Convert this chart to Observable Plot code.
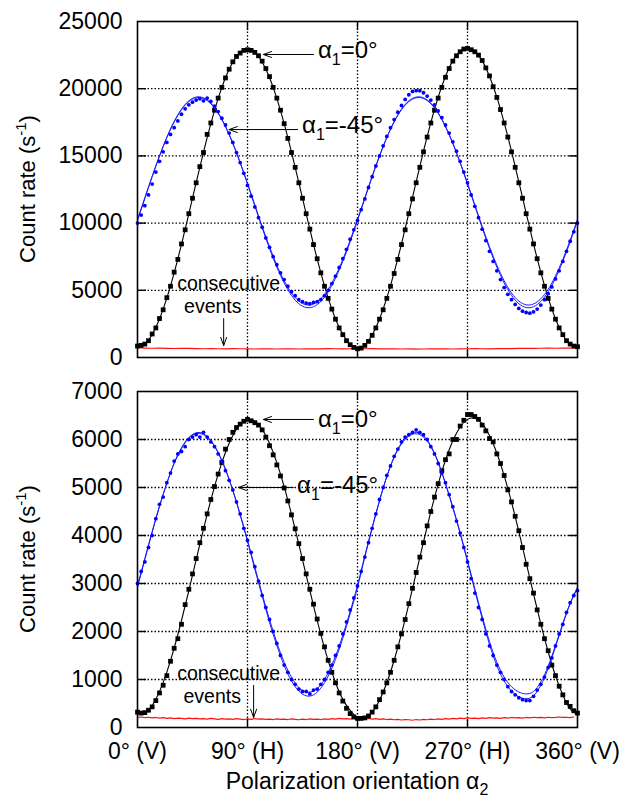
<!DOCTYPE html>
<html><head><meta charset="utf-8">
<script src="https://cdn.jsdelivr.net/npm/d3@7"></script>
<script src="https://cdn.jsdelivr.net/npm/@observablehq/plot@0.6"></script>
<style>
body{margin:0;background:#fff}
#chart{width:623px;background:#fff}
#chart svg{display:block}
</style>
</head><body><div id="chart"></div>
<script>
const FONT = "'Liberation Sans', Arial, Helvetica, sans-serif";

// polarization angle alpha2 (degrees) of the measured points (every 3°) and of the fits (every 6°)
const angles3 = d3.range(0, 361, 3);
const angles6 = d3.range(0, 361, 6);
const xTicks = [0, 90, 180, 270, 360];
const xTickLabels = ["0° (V)", "90° (H)", "180° (V)", "270° (H)", "360° (V)"];
const xGrid = [90, 180, 270];
const topYTicks = [0, 5000, 10000, 15000, 20000, 25000];
const botYTicks = [0, 1000, 2000, 3000, 4000, 5000, 6000, 7000];

// ---------- top panel ----------
const topBlack = [850,900,1000,1250,1750,2200,2900,3550,4450,5300,6350,7300,8450,9500,10700,11850,13000,14200,15250,16600,17450,18400,19300,20100,20800,21450,22000,22400,22650,22850,22900,
22850,22700,22450,22050,21500,20900,20100,19300,18400,17400,16300,15250,14150,13000,11850,10700,9550,8400,7350,6300,5300,4400,3600,2850,2200,1700,1250,950,750,650,
700,900,1200,1650,2200,2850,3550,4400,5300,6250,7300,8400,9500,10700,11800,13000,14150,15300,16400,17450,18400,19300,20100,20850,21500,22050,22450,22750,22950,23000,
22900,22750,22500,22100,21550,20950,20150,19350,18450,17450,16400,15300,14150,13000,11850,10700,9550,8450,7350,6300,5300,4400,3600,2850,2200,1700,1250,1000,850,800];
const topBlackFit = [800,990,1710,2870,4420,6300,8420,10690,13010,15280,17400,19280,20830,21990,22710,22950,
22710,21990,20830,19280,17400,15280,13010,10690,8420,6300,4420,2870,1710,990,700,
940,1680,2870,4440,6330,8460,10740,13070,15350,17480,19370,20930,22090,22800,23040,
22800,22090,20930,19370,17480,15350,13070,10740,8460,6330,4440,2870,1700,980,800];
const topBlue = [10000,10600,11300,12100,12900,13800,14600,15300,16000,16600,17100,17600,18100,18500,18800,19000,19150,19250,19100,19300,19050,18700,18300,17800,17300,16700,16000,15250,14500,13700,12800,
12000,11200,10400,9700,8900,8200,7500,6900,6300,5800,5300,4900,4600,4300,4150,4050,4000,4100,4150,4300,4600,5000,5500,6050,6700,7350,8050,8800,9500,10200,
11000,11800,12650,13450,14250,15000,15750,16450,17100,17700,18250,18750,19200,19550,19800,19850,19850,19700,19450,19150,18800,18350,17850,17300,16700,16050,15350,14600,13800,13000,
12100,11250,10400,9550,8700,7900,7150,6450,5800,5200,4700,4300,3950,3650,3450,3350,3300,3400,3600,3900,4300,4750,5250,5850,6450,7150,7900,8650,9350,10000];
const topBlueFitA = [10190,11820,13450,14990,16380,17560,18480,19100,19380,19320,18930,18210,17200,15940,14490,12910,11280,9650,8110,6720,5540,4620,4000,3720,3780,4170,4890,5900,7160,8610,10190,
11820,13450,14990,16380,17560,18480,19100,19380,19320,18930,18210,17200,15940,14490,12910,11280,9650,8110,6720,5540,4620,4000,3720,3780,4170,4890,5900,7160,8610,10190];
const topBlueFitB = [10280,11890,13490,15000,16370,17530,18440,19040,19320,19270,18880,18170,17170,15940,14510,12960,11350,9750,8240,6870,5710,4800,4200,3920,3980,4370,5070,6070,7300,8730,10280,
11890,13490,15000,16370,17530,18440,19040,19320,19270,18880,18170,17170,15940,14510,12960,11350,9750,8240,6870,5710,4800,4200,3920,3980,4370,5070,6070,7300,8730,10280];
const topRed = [720,700,690,700,680,670,690,680,660,650,660,650,640,660,650,640,630,650,640,630,650,640,630,640,650,640,660,650,640,650,660,
650,660,640,650,640,630,640,620,630,640,650,640,630,640,650,660,650,640,660,670,660,680,690,680,690,700,690,710,700,720];

// ---------- bottom panel ----------
const botBlack = [320,300,310,360,430,560,720,880,1080,1380,1650,1850,2150,2560,2880,3200,3520,3850,4150,4450,4750,5020,5280,5520,5800,6000,6150,6250,6320,6380,6420,
6390,6350,6300,6200,6050,5870,5680,5470,5240,4990,4720,4430,4140,3830,3520,3200,2880,2570,2260,1960,1680,1400,1150,930,720,550,400,290,220,190,
190,200,240,320,430,580,740,930,1150,1400,1680,1950,2250,2580,2900,3230,3550,3850,4200,4500,4800,5080,5350,5580,5700,6000,6000,6280,6400,6520,
6520,6480,6420,6300,6180,6020,5950,5700,5500,5250,4950,4700,4400,4100,3750,3400,3100,2800,2450,2150,1850,1600,1300,1080,860,680,520,440,350,300];
const botBlackFit = [290,290,455,747,1153,1653,2229,2853,3497,4133,4736,5277,5733,6084,6315,6416,6382,6215,5922,5517,5017,4441,3818,3173,2537,1934,1393,937,586,355,210,
210,321,566,931,1401,1955,2569,3216,3868,4496,5072,5573,5975,6261,6419,6442,6329,6084,5719,5249,4695,4081,3434,2783,2154,1578,1077,675,389,260];
const botBlue = [3000,3250,3450,3750,4000,4350,4650,4800,5100,5300,5550,5700,5750,5850,6000,6050,6100,6050,6150,6050,5950,5850,5700,5550,5350,5150,4950,4700,4450,4150,3900,
3650,3350,3050,2750,2500,2250,2000,1750,1500,1300,1150,1000,900,800,750,750,700,780,800,900,1000,1150,1300,1500,1700,1950,2200,2450,2700,2950,
3250,3550,3850,4150,4450,4750,5000,5250,5450,5650,5800,5950,6050,6100,6150,6200,6150,6100,6000,5850,5700,5500,5300,5100,4850,4600,4300,4050,3750,3450,
3100,2800,2500,2250,1950,1700,1500,1300,1150,1000,850,750,680,620,580,560,560,650,780,900,1050,1250,1450,1700,1950,2150,2400,2600,2750,2850];
const botBlueFitA = [2920,3500,4070,4610,5090,5510,5830,6040,6140,6120,5980,5730,5380,4940,4430,3880,3300,2740,2190,1710,1290,970,760,660,680,820,1070,1420,1860,2370,2920,
3550,4150,4720,5230,5640,5930,6100,6150,6080,5870,5530,5080,4580,4040,3450,2850,2270,1730,1290,970,760,640,600,660,880,1230,1680,2150,2580,2900];
const botBlueFitB = [2960,3520,4080,4610,5090,5500,5810,6030,6120,6100,5970,5720,5370,4940,4440,3900,3340,2780,2250,1770,1360,1050,830,740,760,890,1140,1490,1920,2420,2960,
3580,4170,4730,5230,5630,5910,6070,6120,6050,5850,5520,5080,4590,4060,3480,2890,2320,1790,1360,1050,850,740,700,750,950,1280,1710,2170,2590,2920];
const botRed = [210,220,205,215,200,210,195,205,190,200,185,195,190,180,195,185,190,180,185,175,190,180,170,185,175,180,170,185,175,165,180,
170,185,175,180,170,175,165,180,170,175,165,180,170,160,175,165,180,170,175,165,180,170,185,175,190,180,185,175,190,
185,195,180,190,175,185,170,180,165,175,160,170,155,165,160,150,165,155,170,160,175,165,180,170,185,175,190,180,195,185,
200,190,195,185,200,190,205,195,200,190,205,195,210,200,205,195,210,200,215,205,210,200,215,205,210,220,210,215,205,220];

// ---------- annotations (data coordinates) ----------
const topArrows = [
  {x1: 144, y1: 22545, x2: 103, y2: 22545},
  {x1: 131, y1: 16960, x2: 75, y2: 16960},
  {x1: 70.5, y1: 2900, x2: 70.5, y2: 890}
];
const botArrows = [
  {x1: 144, y1: 6417, x2: 103, y2: 6417},
  {x1: 127.5, y1: 5000, x2: 82.5, y2: 5000},
  {x1: 95, y1: 875, x2: 95, y2: 210}
];
const topAlphaLabels = [
  {x: 148, y: 22250, rest: "=0°"},
  {x: 135, y: 16660, rest: "=-45°"}
];
const botAlphaLabels = [
  {x: 148, y: 6256, rest: "=0°"},
  {x: 131, y: 4875, rest: "=-45°"}
];
const topNotes = [
  {x: 75, y: 4985, text: "consecutive"},
  {x: 62, y: 3274, text: "events"}
];
const botNotes = [
  {x: 75, y: 980, text: "consecutive"},
  {x: 61.5, y: 500, text: "events"}
];

const zip = (xs, ys) => xs.map((a, i) => ({a, v: ys[i]}));
const gridStyle = {stroke: "#000", strokeOpacity: 1, strokeWidth: 1.3, strokeDasharray: "1.5,2"};

function makePanel(cfg) {
  const yInner = cfg.yTicks.slice(1, -1);
  const marks = [
    // dotted grid
    Plot.ruleY(yInner, {y: (d) => d, ...gridStyle}),
    Plot.ruleX(xGrid, {x: (d) => d, ...gridStyle}),
    Plot.line(zip(cfg.redAngles, cfg.red), {x: "a", y: "v", stroke: "#ff1010", strokeWidth: 1.1}),
    Plot.line(zip(angles6, cfg.blackFit), {x: "a", y: "v", stroke: "#000", strokeWidth: 1.1, curve: "natural"}),
    Plot.dot(zip(angles3, cfg.black), {x: "a", y: "v", symbol: "square", r: 2.7, fill: "#000"}),
    Plot.line(zip(angles6, cfg.blueFitA), {x: "a", y: "v", stroke: "#1a1aff", strokeWidth: 1, curve: "natural"}),
    Plot.line(zip(angles6, cfg.blueFitB), {x: "a", y: "v", stroke: "#1a1aff", strokeWidth: 1, curve: "natural"}),
    Plot.dot(zip(angles3, cfg.blue), {x: "a", y: "v", r: 1.9, fill: "#0000ff"}),
    Plot.arrow(cfg.arrows, {x1: "x1", y1: "y1", x2: "x2", y2: "y2", stroke: "#000", strokeWidth: 1, headLength: 13, headAngle: 40}),
    Plot.axisY(cfg.yTicks, {tickSize: 0, tickPadding: 15, label: null, fontSize: 23, tickFormat: (d) => String(d)}),
    // inward ticks on the frame
    Plot.axisY(yInner, {anchor: "left", tickSize: -9, tickFormat: () => "", label: null, strokeWidth: 1.4}),
    Plot.axisY(yInner, {anchor: "right", tickSize: -9, tickFormat: () => "", label: null, strokeWidth: 1.4}),
    Plot.axisX(xGrid, {anchor: "bottom", tickSize: -8, tickFormat: () => "", label: null, strokeWidth: 1.4}),
    Plot.axisX(xGrid, {anchor: "top", tickSize: -8, tickFormat: () => "", label: null, strokeWidth: 1.4}),
    cfg.showX ? Plot.axisX(xTicks, {tickSize: 0, tickPadding: 15, label: null, fontSize: 23, tickFormat: (d) => xTickLabels[xTicks.indexOf(d)]}) : null,
    Plot.frame({strokeWidth: 1.6})
  ];
  const plot = Plot.plot({
    width: 623, height: cfg.height,
    marginLeft: 137, marginRight: 46, marginTop: 21, marginBottom: cfg.marginBottom,
    x: {domain: [0, 360]},
    y: {domain: cfg.yDomain},
    style: {fontFamily: FONT, fontSize: "23px", color: "#000", background: "#fff", overflow: "visible"},
    marks
  });
  const x = plot.scale("x"), y = plot.scale("y");
  const svg = d3.select(plot);
  const xa = x.apply(0), xb = x.apply(360), ya = y.apply(cfg.yDomain[0]), yb = y.apply(cfg.yDomain[1]);
  // alpha labels with subscript
  for (const L of cfg.alphaLabels) {
    const t = svg.append("text").attr("x", x.apply(L.x)).attr("y", y.apply(L.y)).attr("text-anchor", "start")
      .attr("font-family", FONT).attr("font-size", 24).attr("fill", "#000");
    t.append("tspan").text("α");
    t.append("tspan").attr("font-size", 16).attr("dy", 7).text("1");
    t.append("tspan").attr("dy", -7).text(L.rest);
  }
  for (const N of cfg.notes) {
    svg.append("text").attr("x", x.apply(N.x)).attr("y", y.apply(N.y)).attr("text-anchor", "middle")
      .attr("font-family", FONT).attr("font-size", 19.5).attr("fill", "#000").text(N.text);
  }
  // y title
  const cy = (ya + yb) / 2;
  const yt = svg.append("text").attr("transform", `translate(35,${cy}) rotate(-90)`).attr("text-anchor", "middle")
    .attr("font-family", FONT).attr("font-size", 22).attr("fill", "#000");
  yt.append("tspan").text("Count rate (s");
  yt.append("tspan").attr("font-size", 15).attr("dy", -9).text("-1");
  yt.append("tspan").attr("dy", 9).text(")");
  if (cfg.showX) {
    const xt = svg.append("text").attr("x", (xa + xb) / 2).attr("y", ya + 62).attr("text-anchor", "middle")
      .attr("font-family", FONT).attr("font-size", 23).attr("fill", "#000");
    xt.append("tspan").text("Polarization orientation α");
    xt.append("tspan").attr("font-size", 16).attr("dy", 6).text("2");
  }
  return plot;
}

const chart = document.getElementById("chart");
chart.appendChild(makePanel({
  height: 370, marginBottom: 13, yDomain: [0, 25000], yTicks: topYTicks,
  black: topBlack, blackFit: topBlackFit, blue: topBlue, blueFitA: topBlueFitA, blueFitB: topBlueFitB,
  red: topRed, redAngles: angles6, arrows: topArrows, alphaLabels: topAlphaLabels, notes: topNotes, showX: false
}));
chart.appendChild(makePanel({
  height: 430, marginBottom: 73, yDomain: [0, 7000], yTicks: botYTicks,
  black: botBlack, blackFit: botBlackFit, blue: botBlue, blueFitA: botBlueFitA, blueFitB: botBlueFitB,
  red: botRed, redAngles: angles3, arrows: botArrows, alphaLabels: botAlphaLabels, notes: botNotes, showX: true
}));
</script>
</body></html>
